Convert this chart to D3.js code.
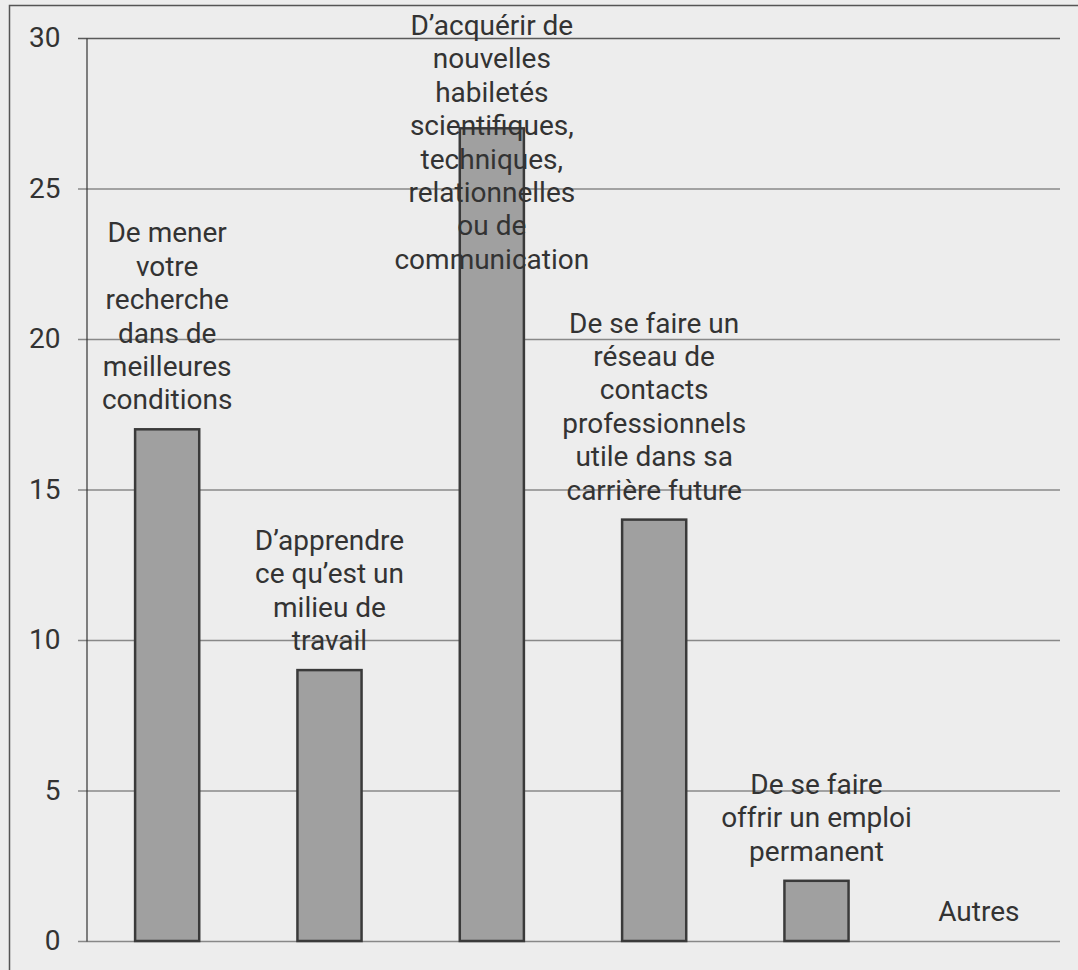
<!DOCTYPE html>
<html lang="fr">
<head>
  <meta charset="UTF-8">
  <title>Motivations</title>
  <script src="https://d3js.org/d3.v7.min.js"></script>
  <style>
    html, body { margin: 0; padding: 0; background: #ededed; overflow: hidden; }
    svg { display: block; font-family: Roboto, "Noto Sans", Arial, sans-serif; }
  </style>
</head>
<body>
  <svg width="1078" height="970"></svg>
  <script>
    // chart data
    const categories = [
      ["De mener", "votre", "recherche", "dans de", "meilleures", "conditions"],
      ["D\u2019apprendre", "ce qu\u2019est un", "milieu de", "travail"],
      ["D\u2019acqu\u00e9rir de", "nouvelles", "habilet\u00e9s", "scientifiques,", "techniques,", "relationnelles", "ou de", "communication"],
      ["De se faire un", "r\u00e9seau de", "contacts", "professionnels", "utile dans sa", "carri\u00e8re future"],
      ["De se faire", "offrir un emploi", "permanent"],
      ["Autres"]
    ];
    const values = [17, 9, 27, 14, 2, 0];
    const yTicks = [0, 5, 10, 15, 20, 25, 30];

    const svg = d3.select("svg");
    const plotLeft = 86, plotRight = 1060, plotTop = 38, plotBottom = 941;
    const fontSize = 28, lineH = 33.4;

    // outer frame
    svg.append("rect")
      .attr("x", 9.5).attr("y", 5.5)
      .attr("width", 1200).attr("height", 1200)
      .attr("fill", "#ededed")
      .attr("stroke", "#555").attr("stroke-width", 1.5);

    const x = d3.scaleBand()
      .domain(d3.range(values.length))
      .range([plotLeft, plotRight])
      .padding(0);

    const y = d3.scaleLinear()
      .domain([0, 30])
      .range([plotBottom, plotTop]);

    // gridlines
    svg.append("g")
      .selectAll("line")
      .data(yTicks)
      .join("line")
      .attr("x1", plotLeft - 8).attr("x2", plotRight)
      .attr("y1", d => y(d) + 0.5).attr("y2", d => y(d) + 0.5)
      .attr("stroke", d => d === 30 ? "#5a5a5a" : "#888")
      .attr("stroke-width", 1.5);

    // y axis
    const yAxis = svg.append("g")
      .attr("transform", `translate(${plotLeft + 0.5},0)`)
      .call(d3.axisLeft(y).tickValues(yTicks).tickSize(0).tickPadding(26));
    yAxis.select(".domain").attr("stroke", "#333").attr("stroke-width", 1.2);
    yAxis.selectAll("text")
      .attr("font-size", fontSize)
      .attr("fill", "#333")
      .attr("font-family", "Roboto, 'Noto Sans', Arial, sans-serif");

    // bars
    const barW = x.bandwidth() * 0.395;
    svg.append("g")
      .selectAll("rect")
      .data(values)
      .join("rect")
      .filter(d => d > 0)
      .attr("x", (d, i) => x(i) + x.bandwidth() / 2 - barW / 2)
      .attr("y", d => y(d))
      .attr("width", barW)
      .attr("height", d => y(0) - y(d))
      .attr("fill", "#a0a0a0")
      .attr("stroke", "#3a3a3a")
      .attr("stroke-width", 2.5);

    // category labels above bars
    const labels = svg.append("g")
      .attr("font-size", fontSize)
      .attr("fill", "#333")
      .attr("text-anchor", "middle");

    categories.forEach((lines, i) => {
      let last = y(values[i]) - 20;
      let first = last - (lines.length - 1) * lineH;
      if (first < 35) first = 35;
      const t = labels.append("text")
        .attr("x", x(i) + x.bandwidth() / 2);
      lines.forEach((s, k) => {
        t.append("tspan")
          .attr("x", x(i) + x.bandwidth() / 2)
          .attr("y", first + k * lineH)
          .text(s);
      });
    });
  </script>
</body>
</html>
